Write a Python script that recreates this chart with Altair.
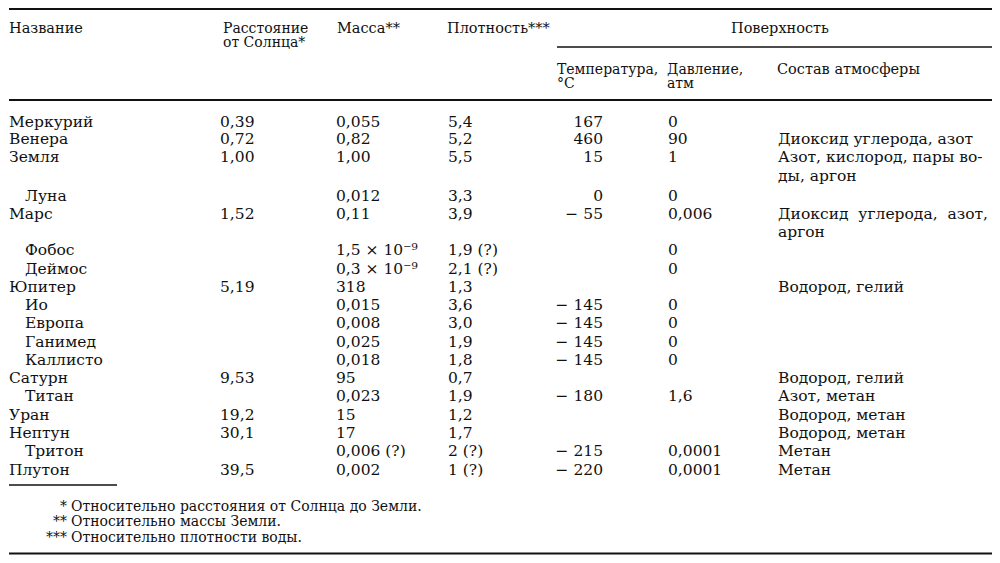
import altair as alt
import pandas as pd

# ---------------- data ----------------
names = ["Меркурий", "Венера", "Земля", "Луна", "Марс", "Фобос", "Деймос",
         "Юпитер", "Ио", "Европа", "Ганимед", "Каллисто", "Сатурн", "Титан",
         "Уран", "Нептун", "Тритон", "Плутон"]
is_moon = [False, False, False, True, False, True, True, False, True, True,
           True, True, False, True, False, False, True, False]
line_no = [0, 1, 2, 4, 5, 7, 8, 9, 10, 11, 12, 13, 14, 15, 16, 17, 18, 19]
distance = ["0,39", "0,72", "1,00", "", "1,52", "", "", "5,19", "", "", "", "",
            "9,53", "", "19,2", "30,1", "", "39,5"]
mass = ["0,055", "0,82", "1,00", "0,012", "0,11", "1,5 × 10⁻⁹", "0,3 × 10⁻⁹",
        "318", "0,015", "0,008", "0,025", "0,018", "95", "0,023", "15", "17",
        "0,006 (?)", "0,002"]
density = ["5,4", "5,2", "5,5", "3,3", "3,9", "1,9 (?)", "2,1 (?)", "1,3", "3,6",
           "3,0", "1,9", "1,8", "0,7", "1,9", "1,2", "1,7", "2 (?)", "1 (?)"]
temperature = ["167", "460", "15", "0", "− 55", "", "", "", "− 145", "− 145",
               "− 145", "− 145", "", "− 180", "", "", "− 215", "− 220"]
pressure = ["0", "90", "1", "0", "0,006", "0", "0", "", "0", "0", "0", "0", "",
            "1,6", "", "", "0,0001", "0,0001"]
atmosphere = ["", "Диоксид углерода, азот", "Азот, кислород, пары во-\nды, аргон",
              "", "Диоксид\u00a0\u00a0углерода,\u00a0\u00a0азот,\nаргон", "", "",
              "Водород, гелий", "", "", "", "", "Водород, гелий", "Азот, метан",
              "Водород, метан", "Водород, метан", "Метан", "Метан"]
footnote_marks = ["*", "**", "***"]
footnote_texts = ["Относительно расстояния от Солнца до Земли.",
                  "Относительно массы Земли.",
                  "Относительно плотности воды."]

rows = pd.DataFrame({
    "name": names, "moon": is_moon, "line": line_no, "distance": distance,
    "mass": mass, "density": density, "temp": temperature, "pressure": pressure,
})

atm_lines, atm_texts = [], []
for ln, txt in zip(line_no, atmosphere):
    for k, part in enumerate(txt.split("\n")):
        if part:
            atm_lines.append(ln + k)
            atm_texts.append(part)
atm = pd.DataFrame({"line": atm_lines, "text": atm_texts})

# ---------------- layout helpers (reference page pixels -> chart pixels) ----
W, H = 984, 547
DY = 1.5  # 'middle' baseline sits a little above the visual centre


def px(X):
    return max(0.0, min(float(W), X - 8))


def py(Y):
    return max(1.0, min(H - 1.5, Y - 8))


FONT = "DejaVu Serif"
COLOR = "#111111"
FS = 15.5
FS_HEAD = 14
FS_NOTE = 14

yscale = alt.Scale(domain=[0, 2, 4, 19],
                   range=[py(120 + DY), py(155.5 + DY), py(194 + DY), py(468 + DY)],
                   nice=False)
Y = alt.Y("line:Q", scale=yscale, axis=None)

one = pd.DataFrame({"k": [0]})


def label(text, X, Yp, align="left", size=FS_HEAD, lh=14):
    return alt.Chart(one).mark_text(
        text=text, font=FONT, fontSize=size, color=COLOR, align=align,
        baseline="middle", lineHeight=lh
    ).encode(x=alt.value(px(X)), y=alt.value(py(Yp + DY)))


def hrule(X1, X2, Yp, w=1.6):
    return alt.Chart(one).mark_rule(color=COLOR, strokeWidth=w).encode(
        x=alt.value(px(X1)), x2=alt.value(px(X2)), y=alt.value(py(Yp)))


def column(field, X, align="left", data=rows, flt=None):
    ch = alt.Chart(data)
    if flt is not None:
        ch = ch.transform_filter(flt)
    return ch.mark_text(font=FONT, fontSize=FS, color=COLOR, align=align,
                        baseline="middle").encode(
        x=alt.value(px(X)), y=Y, text=f"{field}:N")


layers = [
    hrule(0, 1000, 4, 2),
    hrule(556, 1000, 47, 1.4),
    hrule(0, 1000, 100, 2),
    hrule(5, 116, 485, 1.4),
    hrule(0, 1000, 557, 2),
    label("Название", 8, 27, size=14.5),
    label(["Расстояние", "от Солнца*"], 222, 27),
    label("Масса**", 336, 27, size=14.5),
    label("Плотность***", 446, 27, size=14.5),
    label("Поверхность", 779, 27, align="center", size=14.5),
    label(["Температура,", "°С"], 556, 68),
    label(["Давление,", "атм"], 666, 68),
    label("Состав атмосферы", 776, 68, size=14.5),
    column("name", 8, flt="!datum.moon"),
    column("name", 24, flt="datum.moon"),
    column("distance", 219),
    column("mass", 335),
    column("density", 447),
    column("temp", 602, align="right"),
    column("pressure", 667),
    column("text", 777, data=atm),
    label(footnote_marks, 66, 505, align="right", size=FS_NOTE, lh=15.5),
    label(footnote_texts, 70, 505, size=FS_NOTE, lh=15.5),
]

chart = alt.layer(*layers).properties(
    width=W, height=H,
    autosize=alt.AutoSizeParams(type="fit", contains="padding"),
    padding=0,
    background="white",
).configure_view(stroke=None)

chart.save("out.html", embed_options={"renderer": "svg", "actions": False})
